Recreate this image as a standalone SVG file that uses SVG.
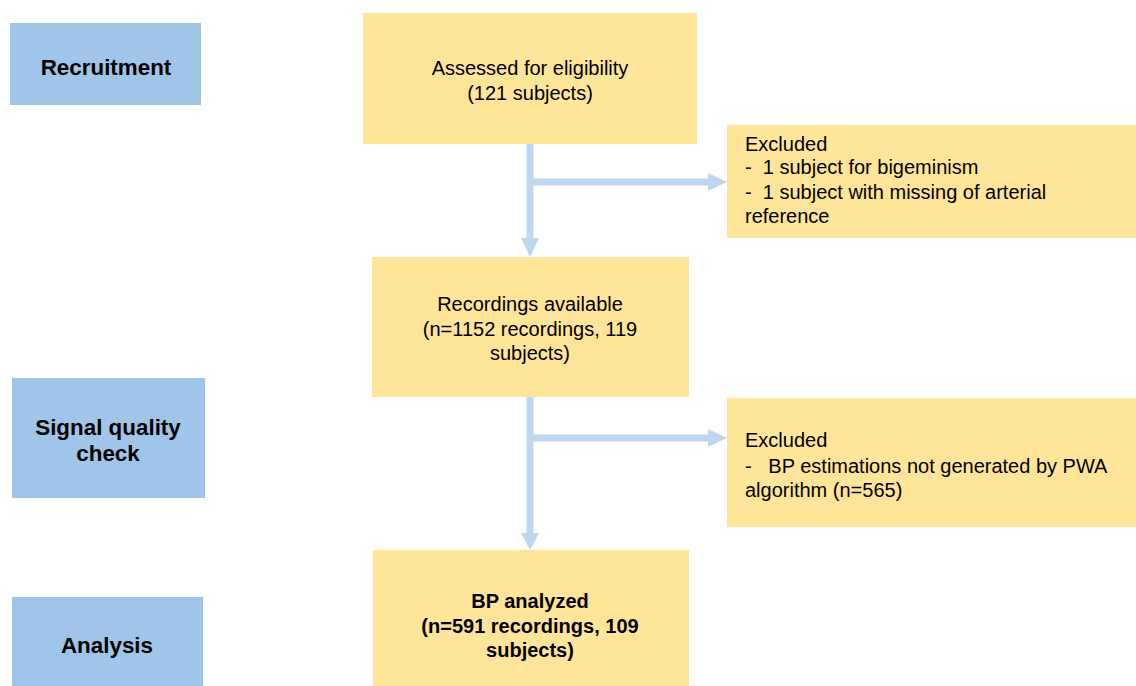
<svg xmlns="http://www.w3.org/2000/svg" width="1136" height="686" viewBox="0 0 1136 686">
<style>
.stage{fill:#9fc5e8}
.box{fill:#ffe599}
text{font-family:"Liberation Sans",Arial,sans-serif;fill:#000}
.t{font-size:20px}
.c{text-anchor:middle}
.b{font-weight:bold}
.s{font-size:22.4px;font-weight:bold;text-anchor:middle}
.conn{stroke:#bdd7ee;stroke-width:7;fill:none}
.head{fill:#bdd7ee}
</style>
<g id="connectors">
<path class="conn" d="M530 144 V240"/>
<path class="conn" d="M530 182 H710"/>
<polygon class="head" points="521,238 539,238 530,257"/>
<polygon class="head" points="708,173 708,191 727,182"/>
<path class="conn" d="M530 397 V535"/>
<path class="conn" d="M530 438 H710"/>
<polygon class="head" points="521,533 539,533 530,550"/>
<polygon class="head" points="708,429 708,447 727,438"/>
</g>
<g id="recruitment">
<rect class="stage" x="10" y="23" width="191" height="82"/>
<text class="s" x="106" y="75">Recruitment</text>
</g>
<g id="signal-quality">
<rect class="stage" x="12" y="378" width="193" height="120"/>
<text class="s" x="108" y="435">Signal quality</text>
<text class="s" x="108" y="461">check</text>
</g>
<g id="analysis">
<rect class="stage" x="12" y="597" width="191" height="89"/>
<text class="s" x="107" y="653">Analysis</text>
</g>
<g id="assessed">
<rect class="box" x="363" y="13" width="334" height="131"/>
<text class="t c" x="530" y="75">Assessed for eligibility</text>
<text class="t c" x="530" y="100">(121 subjects)</text>
</g>
<g id="excluded1">
<rect class="box" x="727" y="125" width="409" height="113"/>
<text class="t" x="745" y="151">Excluded</text>
<text class="t" x="745" y="174" xml:space="preserve">-  1 subject for bigeminism</text>
<text class="t" x="745" y="199" xml:space="preserve">-  1 subject with missing of arterial</text>
<text class="t" x="745" y="223">reference</text>
</g>
<g id="recordings">
<rect class="box" x="372" y="257" width="317" height="140"/>
<text class="t c" x="530" y="311">Recordings available</text>
<text class="t c" x="530" y="336">(n=1152 recordings, 119</text>
<text class="t c" x="530" y="360">subjects)</text>
</g>
<g id="excluded2">
<rect class="box" x="727" y="398" width="409" height="129"/>
<text class="t" x="745" y="447">Excluded</text>
<text class="t" x="745" y="473" xml:space="preserve">-   BP estimations not generated by PWA</text>
<text class="t" x="745" y="497">algorithm (n=565)</text>
</g>
<g id="analyzed">
<rect class="box" x="373" y="550" width="316" height="136"/>
<text class="t c b" x="530" y="608">BP analyzed</text>
<text class="t c b" x="530" y="633">(n=591 recordings, 109</text>
<text class="t c b" x="530" y="657">subjects)</text>
</g>
</svg>
